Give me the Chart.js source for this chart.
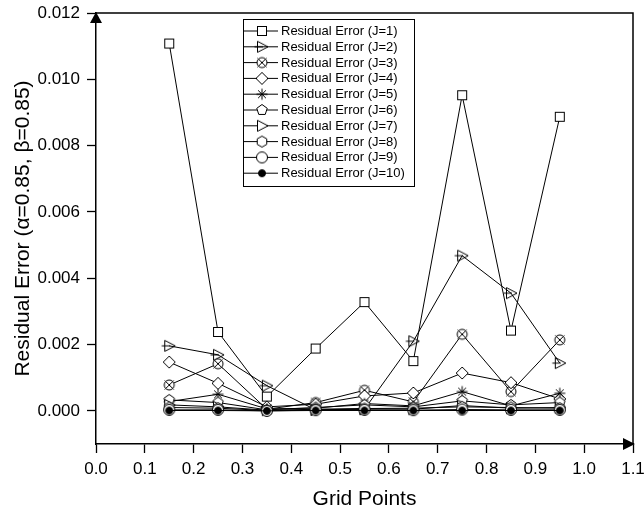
<!DOCTYPE html>
<html>
<head>
<meta charset="utf-8">
<script src="https://cdn.jsdelivr.net/npm/chart.js@4.4.0/dist/chart.umd.min.js"></script>
<style>
  html, body { margin: 0; padding: 0; background: #fff; }
</style>
</head>
<body>
<canvas id="errChart" width="644" height="521"></canvas>
<script>
// grid points (x) and residual error per J
const gridPoints = [0.15, 0.25, 0.35, 0.45, 0.55, 0.65, 0.75, 0.85, 0.95];
const errJ1  = [0.01108, 0.00238, 0.00043, 0.00188, 0.00328, 0.00150, 0.00952, 0.00242, 0.00887];
const errJ2  = [0.00196, 0.00169, 0.00076, 0.00003, 0.00005, 0.00210, 0.00468, 0.00355, 0.00144];
const errJ3  = [0.00078, 0.00142, 0.00005, 0.00025, 0.00062, 0.00027, 0.00231, 0.00058, 0.00214];
const errJ4  = [0.00147, 0.00083, 0.00012, 0.00020, 0.00045, 0.00054, 0.00114, 0.00085, 0.00036];
const errJ5  = [0.00028, 0.00050, 0.00006, 0.00008, 0.00022, 0.00015, 0.00058, 0.00015, 0.00053];
const errJ6  = [0.00033, 0.00025, 0.00003, 0.00010, 0.00018, 0.00012, 0.00030, 0.00018, 0.00025];
const errJ7  = [0.00018, 0.00012, 0.00002, 0.00003, 0.00006, 0.00005, 0.00016, 0.00008, 0.00010];
const errJ8  = [0.00010, 0.00008, 0.00001, 0.00005, 0.00007, 0.00008, 0.00012, 0.00010, 0.00008];
const errJ9  = [0.00003, 0.00003, 0.00000, 0.00002, 0.00003, 0.00002, 0.00004, 0.00003, 0.00003];
const errJ10 = [0.00001, 0.00001, 0.00000, 0.00001, 0.00001, 0.00001, 0.00001, 0.00001, 0.00001];

const seriesLabels = [
  'Residual Error (J=1)', 'Residual Error (J=2)', 'Residual Error (J=3)',
  'Residual Error (J=4)', 'Residual Error (J=5)', 'Residual Error (J=6)',
  'Residual Error (J=7)', 'Residual Error (J=8)', 'Residual Error (J=9)',
  'Residual Error (J=10)'
];
const seriesValues = [errJ1, errJ2, errJ3, errJ4, errJ5, errJ6, errJ7, errJ8, errJ9, errJ10];
const markerKinds = ['square', 'triCross', 'circleX', 'diamond', 'asterisk',
                     'pentagon', 'tri', 'hexagon', 'circle', 'dot'];

const xTicks = [0, 0.1, 0.2, 0.3, 0.4, 0.5, 0.6, 0.7, 0.8, 0.9, 1.0, 1.1];
const yTicks = [0, 0.002, 0.004, 0.006, 0.008, 0.010, 0.012];

const FONT = "'Liberation Sans', Arial, sans-serif";

// small canvases used as point styles
function polygon(ctx, n, r, rot) {
  ctx.beginPath();
  for (let i = 0; i < n; i++) {
    const a = rot + i * 2 * Math.PI / n;
    const px = r * Math.cos(a), py = r * Math.sin(a);
    if (i === 0) ctx.moveTo(px, py); else ctx.lineTo(px, py);
  }
  ctx.closePath();
}

function makeMarker(kind) {
  const c = document.createElement('canvas');
  c.width = 18; c.height = 18;
  const ctx = c.getContext('2d');
  ctx.translate(9, 9);
  ctx.strokeStyle = '#000';
  ctx.fillStyle = '#fff';
  ctx.lineWidth = 1;
  switch (kind) {
    case 'square':
      ctx.fillRect(-4.5, -4.5, 9, 9);
      ctx.strokeRect(-4.5, -4.5, 9, 9);
      break;
    case 'triCross':
      ctx.beginPath();
      ctx.moveTo(-4.5, -5.5); ctx.lineTo(6, 0); ctx.lineTo(-4.5, 5.5); ctx.closePath();
      ctx.stroke();
      ctx.beginPath(); ctx.moveTo(-7.5, 0); ctx.lineTo(1, 0); ctx.stroke();
      break;
    case 'circleX':
      ctx.beginPath(); ctx.arc(0, 0, 5, 0, 2 * Math.PI); ctx.fill(); ctx.stroke();
      ctx.beginPath();
      ctx.moveTo(-4.5, -4.5); ctx.lineTo(4.5, 4.5);
      ctx.moveTo(4.5, -4.5); ctx.lineTo(-4.5, 4.5);
      ctx.stroke();
      break;
    case 'diamond':
      polygon(ctx, 4, 6, 0); ctx.fill(); ctx.stroke();
      break;
    case 'asterisk':
      ctx.beginPath();
      for (let i = 0; i < 4; i++) {
        const a = i * Math.PI / 4;
        ctx.moveTo(-5.5 * Math.cos(a), -5.5 * Math.sin(a));
        ctx.lineTo(5.5 * Math.cos(a), 5.5 * Math.sin(a));
      }
      ctx.stroke();
      break;
    case 'pentagon':
      polygon(ctx, 5, 5.5, -Math.PI / 2); ctx.fill(); ctx.stroke();
      break;
    case 'tri':
      ctx.beginPath();
      ctx.moveTo(-4.5, -5.5); ctx.lineTo(6, 0); ctx.lineTo(-4.5, 5.5); ctx.closePath();
      ctx.fill(); ctx.stroke();
      break;
    case 'hexagon':
      polygon(ctx, 6, 5.5, -Math.PI / 2); ctx.fill(); ctx.stroke();
      break;
    case 'circle':
      ctx.beginPath(); ctx.arc(0, 0, 5.5, 0, 2 * Math.PI); ctx.fill(); ctx.stroke();
      break;
    case 'dot':
      ctx.fillStyle = '#000';
      ctx.beginPath(); ctx.arc(0, 0, 3.5, 0, 2 * Math.PI); ctx.fill(); ctx.stroke();
      break;
  }
  return c;
}

const markers = markerKinds.map(makeMarker);

const datasets = seriesValues.map((vals, i) => ({
  label: seriesLabels[i],
  data: gridPoints.map((x, k) => ({ x: x, y: vals[k] })),
  showLine: true,
  borderColor: '#000',
  borderWidth: 1,
  tension: 0,
  pointStyle: markers[i],
  pointRadius: 5,
  order: seriesValues.length - i   // J=10 ends up on top
}));

// frame, arrows and inside legend
const framePlugin = {
  id: 'framePlugin',
  afterDraw(chart) {
    const ctx = chart.ctx;
    const { left, right, top, bottom } = chart.chartArea;
    ctx.save();
    ctx.strokeStyle = '#000';
    ctx.fillStyle = '#000';
    ctx.lineWidth = 1.5;
    ctx.beginPath();
    ctx.moveTo(left, top);
    ctx.lineTo(right, top);
    ctx.lineTo(right, bottom);
    ctx.stroke();

    ctx.beginPath();
    ctx.moveTo(left, top - 1);
    ctx.lineTo(left - 6, top + 10);
    ctx.lineTo(left + 6, top + 10);
    ctx.closePath();
    ctx.fill();

    ctx.beginPath();
    ctx.moveTo(right + 2, bottom);
    ctx.lineTo(right - 10, bottom - 6);
    ctx.lineTo(right - 10, bottom + 6);
    ctx.closePath();
    ctx.fill();

    // legend box
    const bx = 243, by = 19, bw = 171, bh = 167;
    ctx.fillStyle = '#fff';
    ctx.fillRect(bx, by, bw, bh);
    ctx.lineWidth = 1;
    ctx.strokeRect(bx + 0.5, by + 0.5, bw, bh);
    ctx.font = '13px ' + FONT;
    ctx.textBaseline = 'middle';
    chart.data.datasets.forEach((ds, i) => {
      const y = by + 12 + i * 15.8;
      ctx.strokeStyle = '#000';
      ctx.beginPath();
      ctx.moveTo(bx, y); ctx.lineTo(bx + 35, y);
      ctx.stroke();
      const m = ds.pointStyle;
      ctx.drawImage(m, bx + 19 - m.width / 2, y - m.height / 2);
      ctx.fillStyle = '#000';
      ctx.fillText(ds.label, bx + 38, y + 0.5);
    });
    ctx.restore();
  }
};

new Chart(document.getElementById('errChart'), {
  type: 'scatter',
  data: { datasets: datasets },
  options: {
    responsive: false,
    animation: false,
    devicePixelRatio: 1,
    layout: { padding: { top: 13, right: 11, left: 0, bottom: 0 } },
    plugins: { legend: { display: false }, tooltip: { enabled: false } },
    scales: {
      x: {
        type: 'linear',
        min: 0, max: 1.1,
        afterBuildTicks: (s) => { s.ticks = xTicks.map(v => ({ value: v })); },
        afterFit: (s) => {
          s.height = 77;
          s.paddingLeft = 0; s.paddingRight = 0; s.paddingTop = 0; s.paddingBottom = 0;
        },
        border: { display: true, color: '#000', width: 1.5 },
        grid: { display: true, drawOnChartArea: false, drawTicks: true,
                tickLength: 9, tickColor: '#000', tickWidth: 1.3 },
        ticks: { color: '#000', padding: 6, maxRotation: 0, autoSkip: false,
                 font: { family: FONT, size: 17 },
                 callback: (v) => Number(v).toFixed(1) },
        title: { display: true, text: 'Grid Points', color: '#000',
                 font: { family: FONT, size: 21 }, padding: { top: 0, bottom: 9 } }
      },
      y: {
        type: 'linear',
        min: -0.001, max: 0.012,
        afterBuildTicks: (s) => { s.ticks = yTicks.map(v => ({ value: v })); },
        afterFit: (s) => {
          s.width = 96;
          s.paddingTop = 0; s.paddingBottom = 0; s.paddingLeft = 0; s.paddingRight = 0;
        },
        border: { display: true, color: '#000', width: 1.5 },
        grid: { display: true, drawOnChartArea: false, drawTicks: true,
                tickLength: 9, tickColor: '#000', tickWidth: 1.3 },
        ticks: { color: '#000', padding: 7, autoSkip: false,
                 font: { family: FONT, size: 17 },
                 callback: (v) => Number(v).toFixed(3) },
        title: { display: true, text: 'Residual Error (\u03B1=0.85, \u03B2=0.85)', color: '#000',
                 font: { family: FONT, size: 21 }, padding: { top: 11, bottom: 0 } }
      }
    }
  },
  plugins: [framePlugin]
});
</script>
</body>
</html>
